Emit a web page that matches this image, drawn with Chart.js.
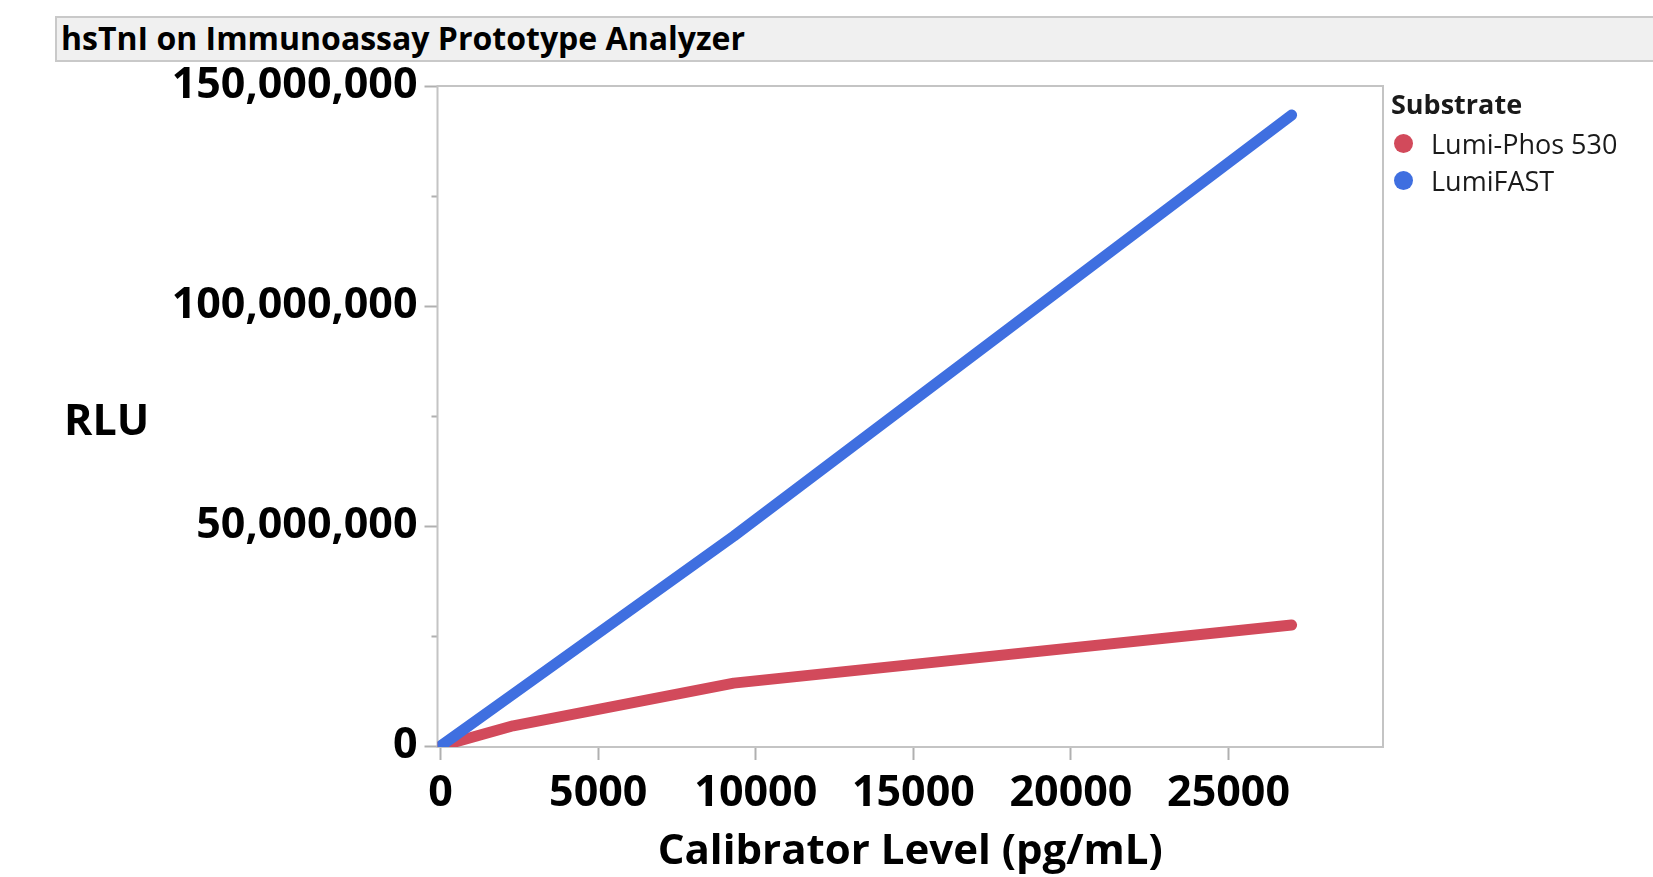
<!DOCTYPE html>
<html>
<head>
<meta charset="utf-8">
<script src="https://cdn.jsdelivr.net/npm/chart.js@4.4.1/dist/chart.umd.min.js"></script>
<style>
  html, body { margin: 0; padding: 0; background: #ffffff; }
  #wrap { position: relative; width: 1653px; height: 877px; overflow: hidden; background: #fff; }
  #chart { position: absolute; left: 0; top: 0; }
  #titlebar {
    position: absolute; left: 55px; top: 16px; width: 1700px; height: 46px;
    box-sizing: border-box; background: #f0f0f0; border: 2px solid #c9c9c9;
    font-family: 'Open Sans', sans-serif; font-weight: bold; font-size: 32px;
    line-height: 40px; padding-left: 4px; color: #000; white-space: nowrap;
  }
  #ytitle {
    position: absolute; left: 64px; top: 389px; height: 60px; line-height: 60px;
    font-family: 'Open Sans', sans-serif; font-weight: bold; font-size: 43px; color: #000;
  }
  #legend { position: absolute; left: 1391px; top: 85px; font-family: 'Open Sans', sans-serif; color: #1a1a1a; }
  #legend .ttl { font-weight: bold; font-size: 27px; height: 40px; line-height: 38px; }
  #legend .item { position: relative; height: 37px; line-height: 37px; font-size: 27px; padding-left: 40px; white-space: nowrap; }
  #legend .dot { position: absolute; left: 3px; top: 9px; width: 19px; height: 19px; border-radius: 50%; }
</style>
</head>
<body>
<div id="wrap">
  <canvas id="chart" width="1653" height="877"></canvas>
  <div id="titlebar"></div>
  <div id="ytitle"></div>
  <div id="legend"></div>
</div>
<script>
// ---- data ----
const chartTitle = 'hsTnI on Immunoassay Prototype Analyzer';
const xAxisTitle = 'Calibrator Level (pg/mL)';
const yAxisTitle = 'RLU';
const legendTitle = 'Substrate';
const seriesNames = ['Lumi-Phos 530', 'LumiFAST'];
const seriesColors = ['#d24a5b', '#3f6fe0'];
const calibratorLevels = [0, 2300, 9300, 27000];
const lumiPhos530 = [0, 4600000, 14300000, 27500000];
const lumiFAST = [0, 11800000, 47700000, 143400000];
const xTickValues = [0, 5000, 10000, 15000, 20000, 25000];
const yTickValues = [0, 25000000, 50000000, 75000000, 100000000, 125000000, 150000000];
const yLabelValues = [0, 50000000, 100000000, 150000000];

document.getElementById('titlebar').textContent = chartTitle;
document.getElementById('ytitle').textContent = yAxisTitle;

const legendEl = document.getElementById('legend');
const lt = document.createElement('div'); lt.className = 'ttl'; lt.textContent = legendTitle; legendEl.appendChild(lt);
seriesNames.forEach((n, i) => {
  const it = document.createElement('div'); it.className = 'item';
  const d = document.createElement('span'); d.className = 'dot'; d.style.background = seriesColors[i];
  it.appendChild(d); it.appendChild(document.createTextNode(n)); legendEl.appendChild(it);
});

const toPoints = (xs, ys) => xs.map((x, i) => ({ x: x, y: ys[i] }));

const framePlugin = {
  id: 'frame',
  beforeDatasetsDraw(chart) {
    const a = chart.chartArea, c = chart.ctx;
    c.save();
    c.strokeStyle = '#c4c4c4';
    c.lineWidth = 2;
    c.strokeRect(a.left, a.top, a.right - a.left, a.bottom - a.top);
    c.restore();
  }
};

function draw() {
  new Chart(document.getElementById('chart'), {
    type: 'line',
    data: {
      datasets: [
        { label: seriesNames[0], data: toPoints(calibratorLevels, lumiPhos530), borderColor: seriesColors[0],
          backgroundColor: seriesColors[0], order: 1 },
        { label: seriesNames[1], data: toPoints(calibratorLevels, lumiFAST), borderColor: seriesColors[1],
          backgroundColor: seriesColors[1], order: 0 }
      ]
    },
    options: {
      responsive: false,
      animation: false,
      events: [],
      elements: {
        line: { borderWidth: 11, tension: 0, borderCapStyle: 'round', borderJoinStyle: 'round', fill: false },
        point: { radius: 0, hoverRadius: 0 }
      },
      layout: { padding: { top: 86, right: 270, left: 0, bottom: 0 } },
      plugins: { legend: { display: false }, tooltip: { enabled: false }, title: { display: false } },
      scales: {
        x: {
          type: 'linear', min: -100, max: 29900,
          afterBuildTicks: s => { s.ticks = xTickValues.map(v => ({ value: v })); },
          afterFit: s => { s.height = 130; },
          border: { display: false },
          grid: { drawOnChartArea: false, drawTicks: true, tickLength: 13, tickColor: '#b0b0b0', tickWidth: 2 },
          ticks: { color: '#000', padding: 8, autoSkip: false, maxRotation: 0,
                   font: { family: "'Open Sans'", weight: 'bold', size: 43 },
                   callback: v => String(v) },
          title: { display: true, text: xAxisTitle, color: '#000', padding: 0,
                   font: { family: "'Open Sans'", weight: 'bold', size: 42 } }
        },
        y: {
          type: 'linear', min: -220000, max: 150000000,
          afterBuildTicks: s => { s.ticks = yTickValues.map(v => ({ value: v })); },
          afterFit: s => { s.width = 437.5; },
          border: { display: false },
          grid: { drawOnChartArea: false, drawTicks: true, tickLength: 13, tickColor: '#b0b0b0', tickWidth: 2,
                  tickBorderDash: ctx => (ctx.tick && yLabelValues.indexOf(ctx.tick.value) < 0) ? [0, 7, 6, 60] : [] },
          ticks: { color: '#000', padding: 7, autoSkip: false,
                   font: { family: "'Open Sans'", weight: 'bold', size: 43 },
                   callback: v => yLabelValues.indexOf(v) >= 0 ? v.toLocaleString('en-US') : '' }
        }
      }
    },
    plugins: [framePlugin]
  });
}

const fontLoads = [
  'bold 44px "Open Sans"', 'bold 43px "Open Sans"', '27px "Open Sans"', 'bold 32px "Open Sans"'
].map(f => document.fonts.load(f));
Promise.all(fontLoads).then(draw, draw);
</script>
</body>
</html>
